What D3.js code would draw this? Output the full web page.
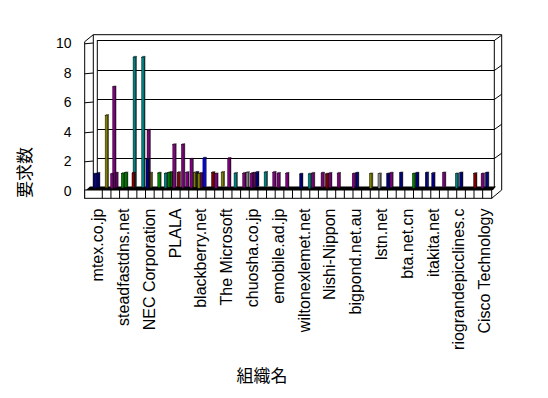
<!DOCTYPE html>
<html><head><meta charset="utf-8">
<script src="https://cdn.jsdelivr.net/npm/d3@7"></script>
<style>html,body{margin:0;padding:0;background:#fff}svg{display:block}</style>
</head><body>
<svg id="chart" width="548" height="398"></svg>
<script>
// ---- data ----
const tickLabels = ["mtex.co.jp","steadfastdns.net","NEC Corporation","PLALA","blackberry.net","The Microsoft","chuosha.co.jp","emobile.ad.jp","wiltonexlemet.net","Nishi-Nippon","bigpond.net.au","lstn.net","bta.net.cn","itakita.net","riograndepicclines.c","Cisco Technology"];
const categoryCount = 46;            // organisations; every 3rd one is labelled
const yTicks = [0, 2, 4, 6, 8, 10];
// one entry per bar: organisation index, depth series, request count, colour index
const barCategory = [0,0,1,2,2,2,3,3,4,4,5,6,6,6,7,8,8,8,9,9,10,10,11,11,11,12,12,12,13,14,14,15,16,17,17,18,18,18,19,20,21,22,24,25,25,26,27,27,28,30,30,32,33,34,34,35,37,37,38,39,40,42,42,44,45,45];
const barSeries   = [0,3,3,0,2,4,2,5,4,5,5,1,2,4,4,2,5,7,2,6,2,6,2,5,7,1,3,6,6,1,7,5,3,3,6,2,4,7,7,7,3,3,0,0,3,4,0,3,3,1,4,1,1,1,4,5,1,4,5,3,5,1,5,2,1,5];
const barValue    = [1,1,5,1,7,1,1,1,1,9,9,2,4,1,1,1,1,1,3,1,3,1,2,1,1,1,1,2,1,1,1,2,1,1,1,1,1,1,1,1,1,1,1,1,1,1,1,1,1,1,1,1,1,1,1,1,1,1,1,1,1,1,1,1,1,1];
const barColor    = [0,0,3,1,1,1,4,4,5,2,2,0,1,3,4,2,4,4,1,5,1,1,1,3,0,3,1,7,5,1,3,1,2,1,6,1,1,0,2,1,1,1,0,2,1,1,5,1,1,1,0,3,6,0,1,0,4,0,0,0,1,2,0,5,1,0];
const palette = ["#000080","#800080","#008080","#808000","#008000","#800000","#808080","#0000ff"];

// ---- drawing ----
const svg = d3.select("#chart");
const cats = d3.range(categoryCount);
const x = d3.scaleBand().domain(cats).range([93.3, 488.6]);
const xFront = d3.scaleBand().domain(cats).range([93.65, 491.3]);
const y = d3.scaleLinear().domain([0, 10]).range([188, 40]);      // back wall (gridlines)
const yBar = d3.scaleLinear().domain([0, 10]).range([188.5, 44]);  // bar plane, slightly in front of the wall
const depthX = 1.075, depthY = 0.25, barW = 2.5, sideW = 0.9;

const line = (x1, y1, x2, y2) => svg.append("line").attr("x1", x1).attr("y1", y1).attr("x2", x2).attr("y2", y2)
  .attr("stroke", "#000").attr("stroke-width", 1);

// walls / frame
line(84.7, 41.7, 84.7, 198.3);
line(84.7, 41.7, 93.3, 34.7);
line(93.3, 34.7, 501.7, 34.7);
line(501.7, 34.7, 501.7, 190);
line(93.3, 34.7, 93.3, 187);
line(97.3, 40, 97.3, 187);
line(494.3, 40, 494.3, 187);

// gridlines from the value scale
yTicks.filter(t => t > 0).forEach(t => {
  const yy = Math.round(y(t)) + 0.5;
  line(97.3, yy, 494.3, yy);
  line(494.3, yy, 501.7, yy - 5.3);
  line(84.7, yy + 3.3, 93.3, yy + 2.5);
});

// floor
svg.append("polygon").attr("points", [[86, 190], [493, 190], [496, 186.5], [90, 186.5]].join(" ")).attr("fill", "#000");
svg.append("rect").attr("x", 84.7).attr("y", 190).attr("width", 491.7 - 84.7).attr("height", 8.3)
  .attr("fill", "#fff").attr("stroke", "#000").attr("stroke-width", 1);
cats.slice(1).forEach(c => line(xFront(c), 190, xFront(c), 198.3));
line(491.7, 198.3, 501.7, 190);

// bars (back rows first)
const bars = barCategory.map((c, i) => ({c, s: barSeries[i], v: barValue[i], col: palette[barColor[i]]}))
  .sort((a, b) => b.s - a.s || a.c - b.c);
const g = svg.append("g");
bars.forEach(b => {
  const bx = x(b.c) + b.s * depthX;
  const base = yBar(0) - b.s * depthY;
  const top = yBar(b.v) - b.s * depthY;
  const col = d3.color(b.col);
  g.append("polygon").attr("points", [[bx + barW, top], [bx + barW + sideW, top - 0.9], [bx + barW + sideW, base - 0.9], [bx + barW, base]].join(" "))
    .attr("fill", col.darker(1)).attr("stroke", "#000").attr("stroke-width", 0.4);
  g.append("polygon").attr("points", [[bx, top], [bx + sideW, top - 0.9], [bx + barW + sideW, top - 0.9], [bx + barW, top]].join(" "))
    .attr("fill", col.brighter(0.6)).attr("stroke", "#000").attr("stroke-width", 0.4);
  g.append("rect").attr("x", bx).attr("y", top).attr("width", barW).attr("height", base - top)
    .attr("fill", col).attr("stroke", "#000").attr("stroke-width", 0.4);
});

// value axis labels
svg.append("g").selectAll("text").data(yTicks).join("text")
  .attr("x", 71.5).attr("y", d => y(d) + 8)
  .attr("text-anchor", "end").attr("font-family", "Liberation Sans, Arial, sans-serif").attr("font-size", 14)
  .text(d => d);

// category labels, every third organisation
svg.append("g").selectAll("text").data(tickLabels).join("text")
  .attr("transform", (d, i) => `translate(${x(i * 3) + x.bandwidth() / 2},208.5) rotate(-90)`)
  .attr("dy", "0.36em").attr("text-anchor", "end")
  .attr("font-family", "Liberation Sans, Arial, sans-serif").attr("font-size", 16)
  .text(d => d);

// axis titles
svg.append("text").attr("transform", "translate(25.5,172.5) rotate(-90)").attr("dy", "0.35em")
  .attr("text-anchor", "middle").attr("font-family", "Noto Sans CJK JP, sans-serif").attr("font-size", 17).text("要求数");
svg.append("text").attr("x", 262).attr("y", 376).attr("dy", "0.35em")
  .attr("text-anchor", "middle").attr("font-family", "Noto Sans CJK JP, sans-serif").attr("font-size", 17).text("組織名");
</script>
</body></html>
